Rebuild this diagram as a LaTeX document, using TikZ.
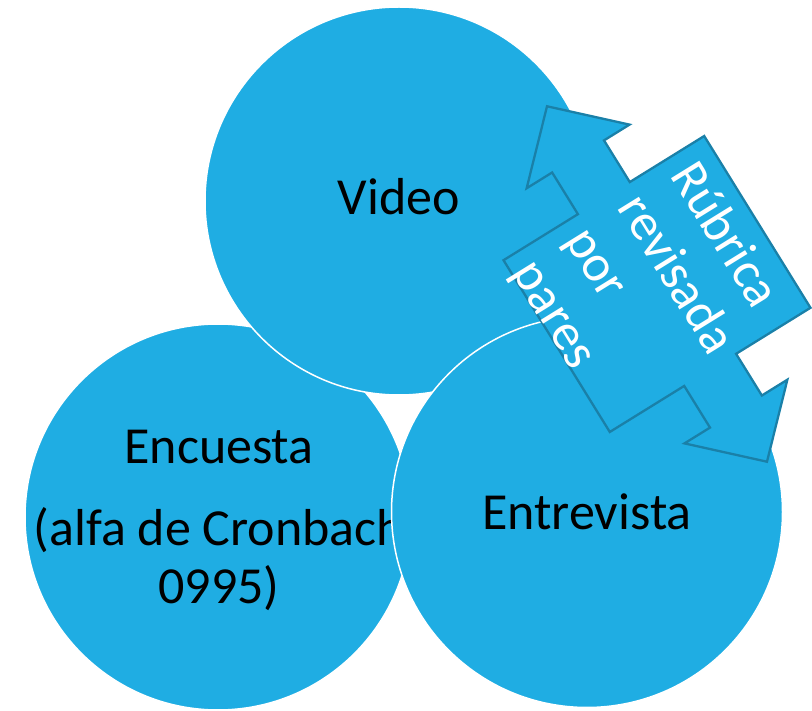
\documentclass[tikz,border=0pt]{standalone}
\usepackage{fontspec}
\setmainfont{Carlito}
\usepackage{tikz}
\definecolor{azul}{HTML}{1FADE3}
\definecolor{borde}{HTML}{1A80A8}
\tikzset{
circulo/.style={circle,fill=azul,draw=white,line width=1.5pt,inner sep=0pt,minimum size=388pt},
texto/.style={font=\fontsize{52}{58}\selectfont,align=center,inner sep=0pt}
}
\begin{document}
\begin{tikzpicture}[x=1pt,y=1pt]
\useasboundingbox (0,0) rectangle (812,-711);
\path (218,-517) node(enc)[circulo,minimum size=386pt]{}
(219,-520) node(tenc)[texto]{Encuesta\\[24pt](alfa de Cronbach\\0995)}
(399,-201) node(vid)[circulo]{}
(399,-197) node(tvid)[texto]{Video}
(587,-512) node(ent)[circulo,minimum size=391pt]{}
(587,-512) node(tent)[texto]{Entrevista};
%flecha doble
\begin{scope}[shift={(657,-284)},rotate=-58.25]
\draw[fill=azul,draw=borde,line width=2.3pt] (-209,0) -- (-150,60.5) -- (-150,30.5) -- (-101,30.5) -- (-101,118) -- (101,118) -- (101,30.5) -- (150,30.5) -- (150,60.5) -- (209,0) -- (150,-60.5) -- (150,-30.5) -- (101,-30.5) -- (101,-118) -- (-101,-118) -- (-101,-30.5) -- (-150,-30.5) -- (-150,-60.5) -- cycle;
\node(rub)[texto,font=\fontsize{52}{62}\selectfont,text=white,align=left,transform shape] at (2,-11) {Rúbrica\\revisada\\por\\pares};
\end{scope}
\end{tikzpicture}
\end{document}
